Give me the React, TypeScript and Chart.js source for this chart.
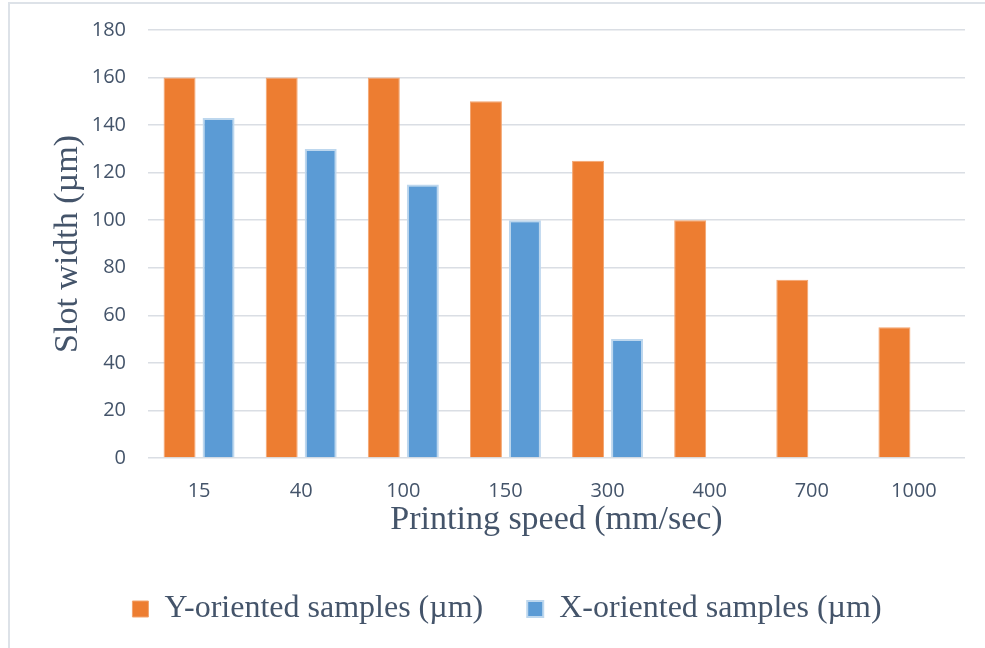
import React, { useEffect, useRef } from "react";
import { Chart, registerables } from "chart.js";

Chart.register(...registerables);

const categories = ["15", "40", "100", "150", "300", "400", "700", "1000"];
const yOriented = [160, 160, 160, 150, 125, 100, 75, 55];
const xOriented: (number | null)[] = [143, 130, 115, 100, 50, null, null, null];
const yTicks = [0, 20, 40, 60, 80, 100, 120, 140, 160, 180];

const TEXT = "#44546A";

export default function App() {
  const ref = useRef<HTMLCanvasElement | null>(null);

  useEffect(() => {
    if (!ref.current) return;
    const chart = new Chart(ref.current, {
      type: "bar",
      data: {
        labels: categories,
        datasets: [
          {
            label: "Y-oriented samples (µm)",
            data: yOriented,
            backgroundColor: "#ED7D31",
            borderColor: "#F3A46F",
            borderWidth: 1,
            categoryPercentage: 0.764,
            barPercentage: 0.82,
          },
          {
            label: "X-oriented samples (µm)",
            data: xOriented,
            backgroundColor: "#5B9BD5",
            borderColor: "#BDD7EE",
            borderWidth: 2,
            categoryPercentage: 0.764,
            barPercentage: 0.82,
          },
        ],
      },
      options: {
        responsive: false,
        animation: false,
        devicePixelRatio: 1,
        layout: { padding: { left: 49, right: 20, top: 30, bottom: 13 } },
        plugins: {
          tooltip: { enabled: false },
          legend: {
            position: "bottom",
            labels: {
              boxWidth: 16,
              boxHeight: 16,
              padding: 44,
              color: TEXT,
              font: { family: "'Liberation Serif', 'Times New Roman', serif", size: 32 },
            },
          },
        },
        scales: {
          x: {
            grid: { display: false, drawTicks: false },
            border: { display: false },
            ticks: {
              padding: 21,
              color: TEXT,
              font: { family: "'Open Sans', sans-serif", size: 20 },
            },
            title: {
              display: true,
              text: "Printing speed (mm/sec)",
              color: TEXT,
              font: { family: "'Liberation Serif', 'Times New Roman', serif", size: 34, lineHeight: 1 },
              padding: { top: 0, bottom: 12 },
            },
            afterFit: (scale: any) => {
              scale.height = 91;
            },
          },
          y: {
            min: 0,
            max: 180,
            afterBuildTicks: (scale: any) => {
              scale.ticks = yTicks.map((v) => ({ value: v }));
            },
            grid: { color: "#DADEE4", lineWidth: 1.6, drawTicks: false },
            border: { display: false },
            ticks: {
              padding: 22,
              color: TEXT,
              font: { family: "'Open Sans', sans-serif", size: 20 },
            },
            title: {
              display: true,
              text: "Slot width (µm)",
              color: TEXT,
              font: { family: "'Liberation Serif', 'Times New Roman', serif", size: 34, lineHeight: 1.13 },
              padding: 0,
            },
            afterFit: (scale: any) => {
              scale.width = 99;
              scale.paddingTop = 0;
              scale.paddingBottom = 0;
            },
          },
        },
      },
    });
    return () => chart.destroy();
  }, []);

  return (
    <div style={{ position: "fixed", left: 0, top: 0, width: 985, height: 648, background: "#fff" }}>
      <div
        style={{
          position: "absolute",
          left: 8,
          top: 2,
          width: 977,
          height: 646,
          borderLeft: "2px solid #DDE2E8",
          borderTop: "2px solid #DDE2E8",
          boxSizing: "border-box",
        }}
      />
      <canvas ref={ref} width={985} height={648} style={{ position: "absolute", left: 0, top: 0, width: 985, height: 648 }} />
    </div>
  );
}
